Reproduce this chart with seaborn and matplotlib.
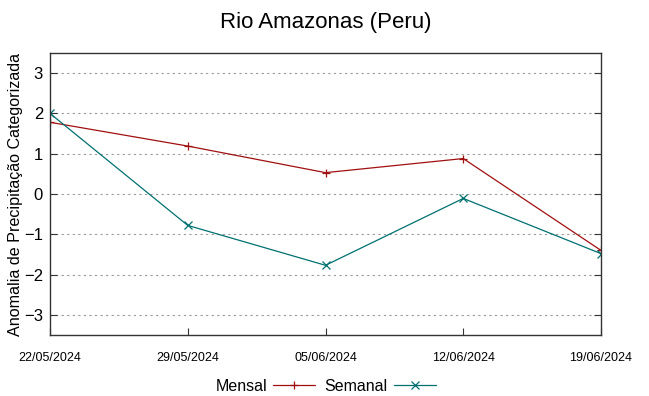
import pandas as pd
import seaborn as sns
import matplotlib
matplotlib.use("Agg")
import matplotlib.pyplot as plt
import matplotlib.dates as mdates

dates = ["22/05/2024", "29/05/2024", "05/06/2024", "12/06/2024", "19/06/2024"]
mensal = [1.78, 1.19, 0.53, 0.88, -1.40]
semanal = [2.00, -0.78, -1.77, -0.11, -1.48]

sns.set_style("ticks")
plt.rcParams['font.family'] = ['Liberation Sans', 'DejaVu Sans']
plt.rcParams['text.color'] = 'black'
plt.rcParams['xtick.color'] = '#333333'
plt.rcParams['ytick.color'] = '#333333'
plt.rcParams['xtick.labelcolor'] = 'black'
plt.rcParams['ytick.labelcolor'] = 'black'
plt.rcParams['axes.labelcolor'] = 'black'

x = pd.to_datetime(dates, format="%d/%m/%Y")
df = pd.DataFrame({"data": x, "Mensal": mensal, "Semanal": semanal})

fig = plt.figure(figsize=(6.49, 3.96), dpi=100)
ax = fig.add_axes([50 / 649, 61 / 396, 551 / 649, 282 / 396])

series = [("Mensal", "#a01010", "+"), ("Semanal", "#007070", "x")]
for name, col, mk in series:
    sns.lineplot(data=df, x="data", y=name, color=col, marker=mk,
                 markeredgecolor=col, markersize=5.5, markeredgewidth=0.9,
                 linewidth=0.9, label=name, ax=ax)

ax.set_xlim(x.min(), x.max())
ax.set_ylim(-3.5, 3.5)
ax.set_yticks(range(-3, 4))
ax.set_xticks(x)
ax.xaxis.set_major_formatter(mdates.DateFormatter("%d/%m/%Y"))
ax.tick_params(axis="x", direction="in", labelsize=9, pad=12, length=5,
               top=False)
ax.tick_params(axis="y", direction="in", labelsize=12, length=5,
               right=True, pad=5)
for lab in ax.get_xticklabels():
    lab.set_fontstretch("condensed")
ax.yaxis.grid(True, linestyle=(0, (2, 3)), color="#999999", linewidth=0.8)
for s in ax.spines.values():
    s.set_color("#333333")
    s.set_linewidth(1.0)

ax.set_xlabel("")
ax.set_ylabel("Anomalia de Precipitação Categorizada", fontsize=11.6,
              labelpad=1)
ax.set_title("Rio Amazonas (Peru)", fontsize=16, pad=18)

handles, labels = ax.get_legend_handles_labels()
ax.legend(handles, labels, loc="upper center", bbox_to_anchor=(0.5, -0.105),
          ncol=2, frameon=False, markerfirst=False, fontsize=11.5,
          handlelength=2.6, columnspacing=0.6, handletextpad=0.4)

fig.savefig("out.png", dpi=100)
